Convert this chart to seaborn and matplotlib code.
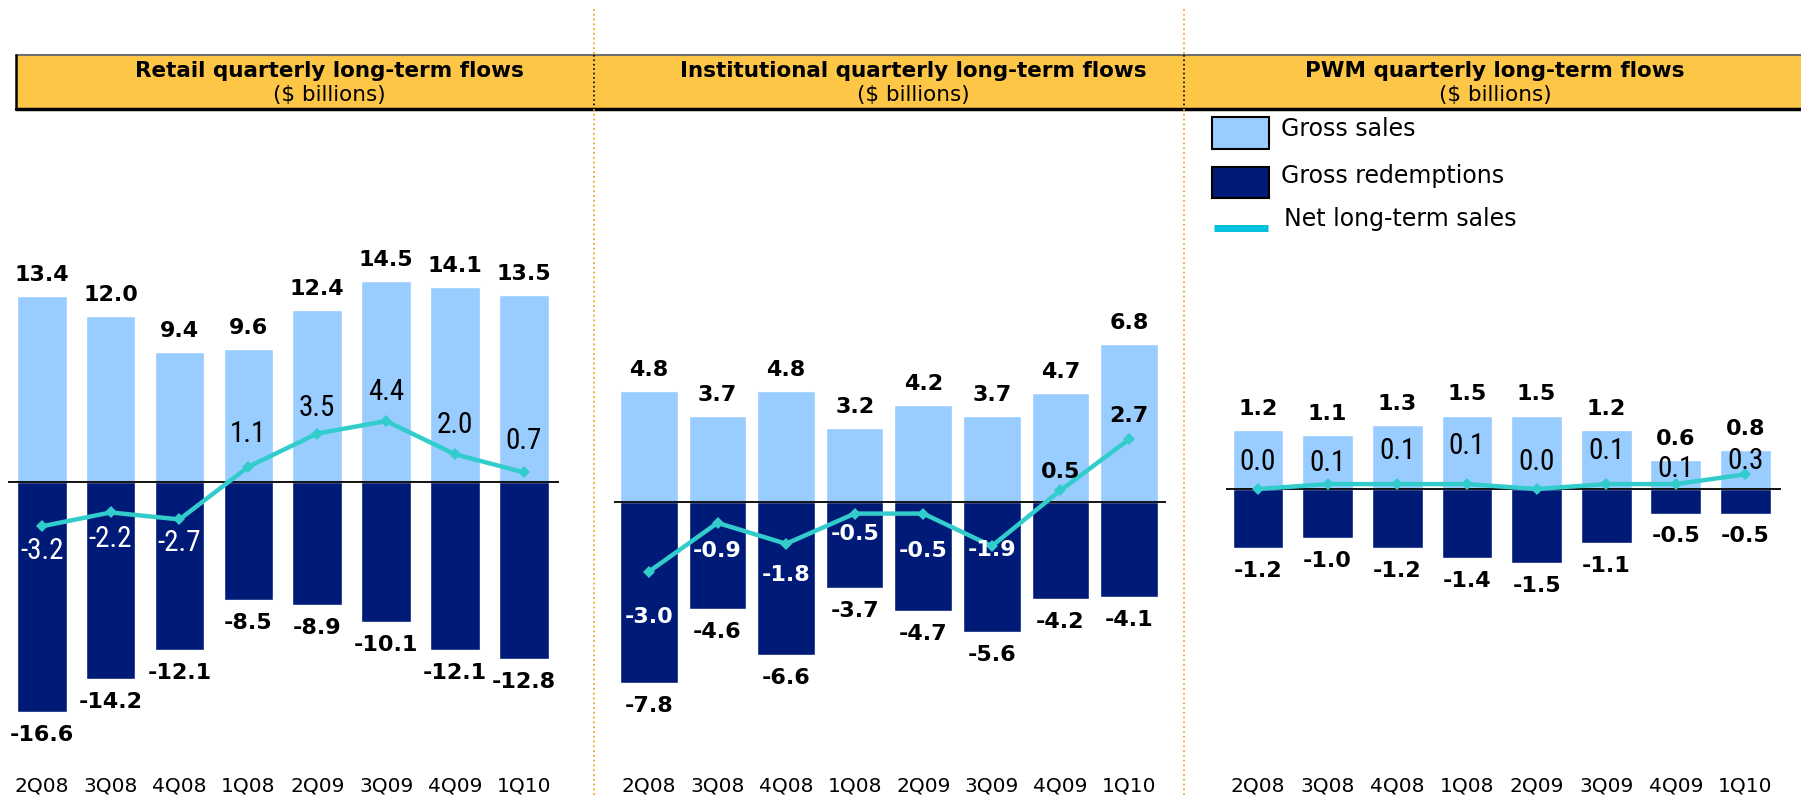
import numpy as np
import matplotlib
matplotlib.use("Agg")
import matplotlib.pyplot as plt
import matplotlib.transforms as mtransforms
from matplotlib.patches import Rectangle
from matplotlib.lines import Line2D
import seaborn as sns

sns.set_style("white")
plt.rcParams['font.family'] = ['DejaVu Sans']
plt.rcParams['text.color'] = 'black'

# Data ($ billions)
quarters = ["2Q08", "3Q08", "4Q08", "1Q08", "2Q09", "3Q09", "4Q09", "1Q10"]

retail_sales = [13.4, 12.0, 9.4, 9.6, 12.4, 14.5, 14.1, 13.5]
retail_redemptions = [-16.6, -14.2, -12.1, -8.5, -8.9, -10.1, -12.1, -12.8]
retail_net = [-3.2, -2.2, -2.7, 1.1, 3.5, 4.4, 2.0, 0.7]

inst_sales = [4.8, 3.7, 4.8, 3.2, 4.2, 3.7, 4.7, 6.8]
inst_redemptions = [-7.8, -4.6, -6.6, -3.7, -4.7, -5.6, -4.2, -4.1]
inst_net = [-3.0, -0.9, -1.8, -0.5, -0.5, -1.9, 0.5, 2.7]

pwm_sales = [1.2, 1.1, 1.3, 1.5, 1.5, 1.2, 0.6, 0.8]
pwm_redemptions = [-1.2, -1.0, -1.2, -1.4, -1.5, -1.1, -0.5, -0.5]
pwm_net = [0.0, 0.1, 0.1, 0.1, 0.0, 0.1, 0.1, 0.3]

titles = ["Retail quarterly long-term flows",
          "Institutional quarterly long-term flows",
          "PWM quarterly long-term flows"]
subtitle = "($ billions)"

# Colours
LIGHT = "#99CCFF"
NAVY = "#001A78"
TEAL = "#33CCCC"
LEGEND_TEAL = "#00C0DE"
HEADER = "#FDC647"
ORANGE = "#F5A623"

W, H = 1801, 796
fig = plt.figure(figsize=(W / 100, H / 100), dpi=100)


def fx(px):
    return px / W


def fy(py):
    return 1 - py / H


# panel layout in pixels: x extent, xlim, zero line y, pixels per unit, ylim
panels = [
    dict(sales=retail_sales, red=retail_redemptions, net=retail_net,
         left=8, right=559, xlim=(-0.49, 7.51), zero=482, ppu=13.85, ylim=(-19, 17),
         width=0.72, center=329,
         net_dy=[-25, -27, -24, 33, 26, 29, 29, 31], net_bold=False),
    dict(sales=inst_sales, red=inst_redemptions, net=inst_net,
         left=614, right=1166, xlim=(-0.51, 7.54), zero=502, ppu=23.2, ylim=(-9.5, 8.5),
         width=0.84, center=913,
         net_dy=[-45, -28, -31, -20, -37, -4, 18, 23], net_bold=True),
    dict(sales=pwm_sales, red=pwm_redemptions, net=pwm_net,
         left=1226, right=1781, xlim=(-0.46, 7.51), zero=489, ppu=49.0, ylim=(-4.5, 4.5),
         width=0.73, center=1495,
         net_dy=[27, 21, 33, 38, 27, 33, 15, 13], net_bold=False),
]

NARROW = ['Liberation Sans Narrow', 'Roboto Condensed', 'Liberation Sans']

for i, p in enumerate(panels):
    ytop = p['zero'] - p['ylim'][1] * p['ppu']
    ybot = p['zero'] - p['ylim'][0] * p['ppu']
    ax = fig.add_axes([fx(p['left']), fy(ybot), fx(p['right'] - p['left']),
                       (ybot - ytop) / H])

    sns.barplot(x=quarters, y=p['sales'], order=quarters, color=LIGHT,
                saturation=1, width=p['width'], ax=ax)
    sns.barplot(x=quarters, y=p['red'], order=quarters, color=NAVY,
                saturation=1, width=p['width'], ax=ax)
    xs = np.arange(len(quarters))
    sns.lineplot(x=xs, y=p['net'], color=TEAL, lw=3.2, marker='D',
                 markersize=6, markeredgewidth=0, ax=ax, zorder=4)
    ax.axhline(0, color='black', lw=1.3, zorder=3)

    ax.set_xlim(*p['xlim'])
    ax.set_ylim(*p['ylim'])
    ax.axis('off')

    # gross labels
    for x, v in zip(xs, p['sales']):
        ax.annotate(f"{v:.1f}", (x, v), xytext=(0, 21), textcoords='offset pixels',
                    ha='center', va='center', fontsize=16, fontweight='bold')
    for x, v in zip(xs, p['red']):
        ax.annotate(f"{v:.1f}", (x, v), xytext=(0, -23), textcoords='offset pixels',
                    ha='center', va='center', fontsize=16, fontweight='bold')

    # net labels
    for x, v, dy in zip(xs, p['net'], p['net_dy']):
        col = 'white' if v < 0 else 'black'
        if p['net_bold']:
            ax.annotate(f"{v:.1f}", (x, v), xytext=(0, dy), textcoords='offset pixels',
                        ha='center', va='center', fontsize=16, fontweight='bold',
                        color=col, zorder=5)
        else:
            ax.annotate(f"{v:.1f}", (x, v), xytext=(0, dy), textcoords='offset pixels',
                        ha='center', va='center', fontsize=21, family=NARROW,
                        color=col, zorder=5)

    # category labels along the bottom
    trans = mtransforms.blended_transform_factory(ax.transData, fig.transFigure)
    for x, q in zip(xs, quarters):
        ax.text(x, fy(786), q, transform=trans, ha='center', va='center',
                fontsize=14.5, clip_on=False)

    # header titles
    fig.text(fx(p['center']), fy(71), titles[i], ha='center', va='center',
             fontsize=15.5, fontweight='bold')
    fig.text(fx(p['center']), fy(95), subtitle, ha='center', va='center',
             fontsize=15.5)

# header band
fig.add_artist(Rectangle((fx(16), fy(109)), fx(1801 - 16), (109 - 55) / H,
                         facecolor=HEADER, edgecolor='none',
                         transform=fig.transFigure, zorder=0))
fig.add_artist(Line2D([fx(16), 1], [fy(55), fy(55)], color='#707070', lw=1.5,
                      transform=fig.transFigure))
fig.add_artist(Line2D([fx(16), 1], [fy(109), fy(109)], color='black', lw=2.5,
                      transform=fig.transFigure))
fig.add_artist(Line2D([fx(16), fx(16)], [fy(55), fy(109)], color='black', lw=1.8,
                      transform=fig.transFigure))

# dotted separators
for sx in [594, 1184]:
    fig.add_artist(Line2D([fx(sx), fx(sx)], [fy(9), fy(55)], color=ORANGE, lw=1.3,
                          ls=':', transform=fig.transFigure))
    fig.add_artist(Line2D([fx(sx), fx(sx)], [fy(55), fy(109)], color='black', lw=1.2,
                          ls=':', transform=fig.transFigure))
    fig.add_artist(Line2D([fx(sx), fx(sx)], [fy(109), 0], color=ORANGE, lw=1.3,
                          ls=':', transform=fig.transFigure))

# legend
fig.add_artist(Rectangle((fx(1212), fy(149)), fx(57), 32 / H, facecolor=LIGHT,
                         edgecolor='black', lw=1.5, transform=fig.transFigure))
fig.add_artist(Rectangle((fx(1212), fy(198)), fx(57), 31 / H, facecolor=NAVY,
                         edgecolor='black', lw=1.5, transform=fig.transFigure))
fig.add_artist(Line2D([fx(1214), fx(1268)], [fy(228), fy(228)], color=LEGEND_TEAL,
                      lw=5, solid_capstyle='butt', transform=fig.transFigure))
fig.text(fx(1281), fy(129), "Gross sales", ha='left', va='center', fontsize=17)
fig.text(fx(1281), fy(176), "Gross redemptions", ha='left', va='center', fontsize=17)
fig.text(fx(1284), fy(219), "Net long-term sales", ha='left', va='center', fontsize=17)

fig.savefig("out.png", dpi=100)
